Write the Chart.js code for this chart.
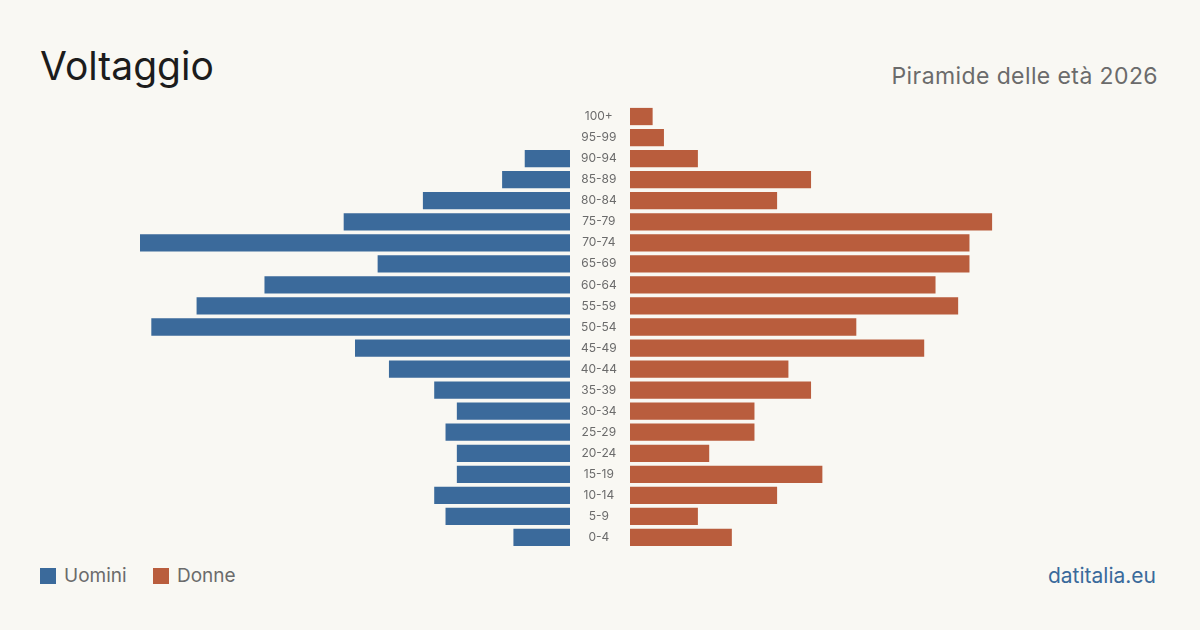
<!DOCTYPE html>
<html>
<head>
<meta charset="utf-8">
<script src="https://cdn.jsdelivr.net/npm/chart.js@4/dist/chart.umd.min.js"></script>
<style>
    body { margin: 0; background: #f9f8f3; font-family: Inter, "Noto Sans", sans-serif; }
    #page { position: relative; width: 1200px; height: 630px; overflow: hidden; }
    #title { position: absolute; left: 40px; top: 41px; font-size: 39px; color: #1c1c1c; line-height: 50px; }
    #subtitle { position: absolute; right: 42px; top: 61px; font-size: 23px; letter-spacing: 0.4px; color: #6b6b6b; line-height: 30px; }
    #legend { position: absolute; left: 40px; top: 564px; font-size: 19px; color: #6b6b6b; line-height: 24px; }
    #legend span.sw { display: inline-block; width: 16px; height: 16px; vertical-align: -2px; margin-right: 8px; }
    #legend span.it { margin-right: 21px; }
    #source { position: absolute; right: 44px; top: 563px; font-size: 21px; color: #3a6a9b; line-height: 26px; }
    canvas { position: absolute; }
</style>
</head>
<body>
<div id="page">
    <div id="title">Voltaggio</div>
    <div id="subtitle">Piramide delle età 2026</div>
    <canvas id="men" width="430" height="442" style="left:140px;top:106px"></canvas>
    <canvas id="women" width="490" height="442" style="left:570px;top:106px"></canvas>
    <div id="legend">
        <span class="sw" style="background:#3b6a9b"></span><span class="it">Uomini</span>
        <span class="sw" style="background:#b95d3d"></span><span class="it">Donne</span>
    </div>
    <div id="source">datitalia.eu</div>
</div>
<script>
var ageLabels = ["100+", "95-99", "90-94", "85-89", "80-84", "75-79", "70-74", "65-69", "60-64", "55-59",
    "50-54", "45-49", "40-44", "35-39", "30-34", "25-29", "20-24", "15-19", "10-14", "5-9", "0-4"];
var menValues = [0, 0, 4, 6, 13, 20, 38, 17, 27, 33, 37, 19, 16, 12, 10, 11, 10, 10, 12, 11, 5];
var womenValues = [2, 3, 6, 16, 13, 32, 30, 30, 27, 29, 20, 26, 14, 16, 11, 11, 7, 17, 13, 6, 9];
var axisMax = 38;

var menColor = "#3b6a9b";
var womenColor = "#b95d3d";

function barOptions(reverse, showLabels) {
    var yAxis = {
        display: showLabels,
        grid: { display: false, drawTicks: false },
        border: { display: false },
        ticks: {
            color: "#6b6b6b",
            font: { family: "Inter", size: 12 },
            crossAlign: "center",
            padding: 13,
        },
    };
    if (showLabels) {
        // fixed gutter between the two halves, labels centred in it
        yAxis.afterFit = function (scale) {
            scale.width = 60;
            scale.paddingTop = 0;
            scale.paddingBottom = 0;
        };
    }
    return {
        indexAxis: "y",
        responsive: false,
        animation: false,
        layout: { padding: 0 },
        plugins: { legend: { display: false }, tooltip: { enabled: false } },
        scales: {
            x: {
                display: false,
                min: 0,
                max: axisMax,
                reverse: reverse,
            },
            y: yAxis,
        },
    };
}

new Chart(document.getElementById("men").getContext("2d"), {
    type: "bar",
    data: {
        labels: ageLabels,
        datasets: [
            {
                data: menValues,
                backgroundColor: menColor,
                categoryPercentage: 1,
                barPercentage: 0.82,
            },
        ],
    },
    options: barOptions(true, false),
});

new Chart(document.getElementById("women").getContext("2d"), {
    type: "bar",
    data: {
        labels: ageLabels,
        datasets: [
            {
                data: womenValues,
                backgroundColor: womenColor,
                categoryPercentage: 1,
                barPercentage: 0.82,
            },
        ],
    },
    options: barOptions(false, true),
});
</script>
</body>
</html>
